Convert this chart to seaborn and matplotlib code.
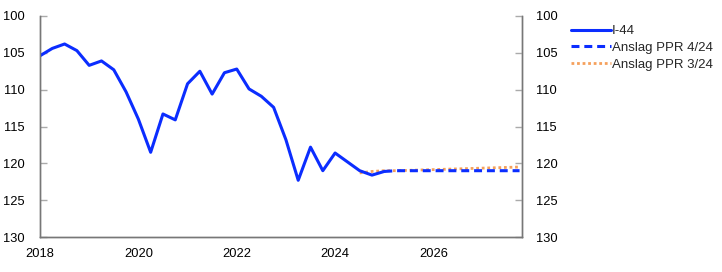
import matplotlib
matplotlib.use("Agg")
import matplotlib.pyplot as plt
import seaborn as sns
import numpy as np

sns.set_theme(style="white")
plt.rcParams['font.family'] = ['Liberation Sans', 'DejaVu Sans']

# Historical I-44 (quarterly)
hist_x = [2018.0, 2018.25, 2018.5, 2018.75, 2019.0, 2019.25, 2019.5, 2019.75,
          2020.0, 2020.25, 2020.5, 2020.75, 2021.0, 2021.25, 2021.5, 2021.75,
          2022.0, 2022.25, 2022.5, 2022.75, 2023.0, 2023.25, 2023.5, 2023.75,
          2024.0, 2024.25, 2024.5, 2024.75, 2025.0]
hist_y = [105.4, 104.4, 103.8, 104.7, 106.7, 106.1, 107.3, 110.3,
          114.0, 118.5, 113.3, 114.1, 109.2, 107.5, 110.6, 107.7,
          107.2, 109.9, 110.9, 112.4, 116.8, 122.3, 117.8, 121.0,
          118.6, 119.8, 121.0, 121.6, 121.1]

# Forecast PPR 4/24
ppr4_x = [2025.0, 2025.25, 2025.5, 2025.75, 2026.0, 2026.25, 2026.5, 2026.75,
          2027.0, 2027.25, 2027.5, 2027.75]
ppr4_y = [121.1, 121.0, 121.0, 121.0, 121.0, 121.0, 121.0, 121.0,
          121.0, 121.0, 121.0, 121.0]

# Forecast PPR 3/24
ppr3_x = [2024.5, 2024.75, 2025.0, 2025.25, 2025.5, 2025.75, 2026.0, 2026.25,
          2026.5, 2026.75, 2027.0, 2027.25, 2027.5, 2027.75]
ppr3_y = [121.3, 121.1, 121.0, 121.0, 120.95, 120.9, 120.85, 120.8,
          120.75, 120.7, 120.65, 120.6, 120.55, 120.5]

labels = ["I-44", "Anslag PPR 4/24", "Anslag PPR 3/24"]
blue = "#0b2dff"
orange = "#f5a05c"

fig = plt.figure(figsize=(7.22, 2.72), dpi=100)
ax = fig.add_axes([40/722, 1-237/272, (522-40)/722, (237-16)/272])

sns.lineplot(x=ppr3_x, y=ppr3_y, ax=ax, color=orange, lw=2.0,
             linestyle=(0, (1, 1)), label=labels[2], zorder=2)
sns.lineplot(x=ppr4_x, y=ppr4_y, ax=ax, color=blue, lw=2.2,
             linestyle=(0, (2.6, 1.6)), label=labels[1], zorder=3)
sns.lineplot(x=hist_x, y=hist_y, ax=ax, color=blue, lw=2.2,
             label=labels[0], zorder=4)

ax.set_xlim(2018, 2027.8)
ax.set_ylim(130, 100)
ax.set_xticks([2018, 2020, 2022, 2024, 2026])
ax.set_xticklabels(["2018", "2020", "2022", "2024", "2026"])
yt = [100, 105, 110, 115, 120, 125, 130]
ax.set_yticks(yt)
ax.set_yticklabels([str(v) for v in yt])

ax2 = ax.twinx()
ax2.set_ylim(130, 100)
ax2.set_yticks(yt)
ax2.set_yticklabels([str(v) for v in yt])

for a in (ax, ax2):
    for s in a.spines.values():
        s.set_color("#777777")
        s.set_linewidth(1.0)
    a.spines['top'].set_visible(False)
    a.grid(False)

fs = 9.3
ax.tick_params(axis='y', direction='in', length=5, width=1, colors="#aaaaaa",
               labelcolor="black", labelsize=fs, pad=11)
ax.tick_params(axis='x', direction='in', length=5, width=1, colors="#aaaaaa",
               labelcolor="black", labelsize=fs, pad=8)
ax2.tick_params(axis='y', direction='in', length=5, width=1, colors="#aaaaaa",
                labelcolor="black", labelsize=fs, pad=10)

handles, labs = ax.get_legend_handles_labels()
order = [labs.index(l) for l in labels]
ax.legend([handles[i] for i in order], [labs[i] for i in order],
          loc="upper left", bbox_to_anchor=(571/722, 1-25/272),
          bbox_transform=fig.transFigure, frameon=False, fontsize=9.5,
          handlelength=3.0, handletextpad=0.1, labelspacing=0.35,
          borderaxespad=0, borderpad=0)

fig.savefig("out.png", dpi=100)
